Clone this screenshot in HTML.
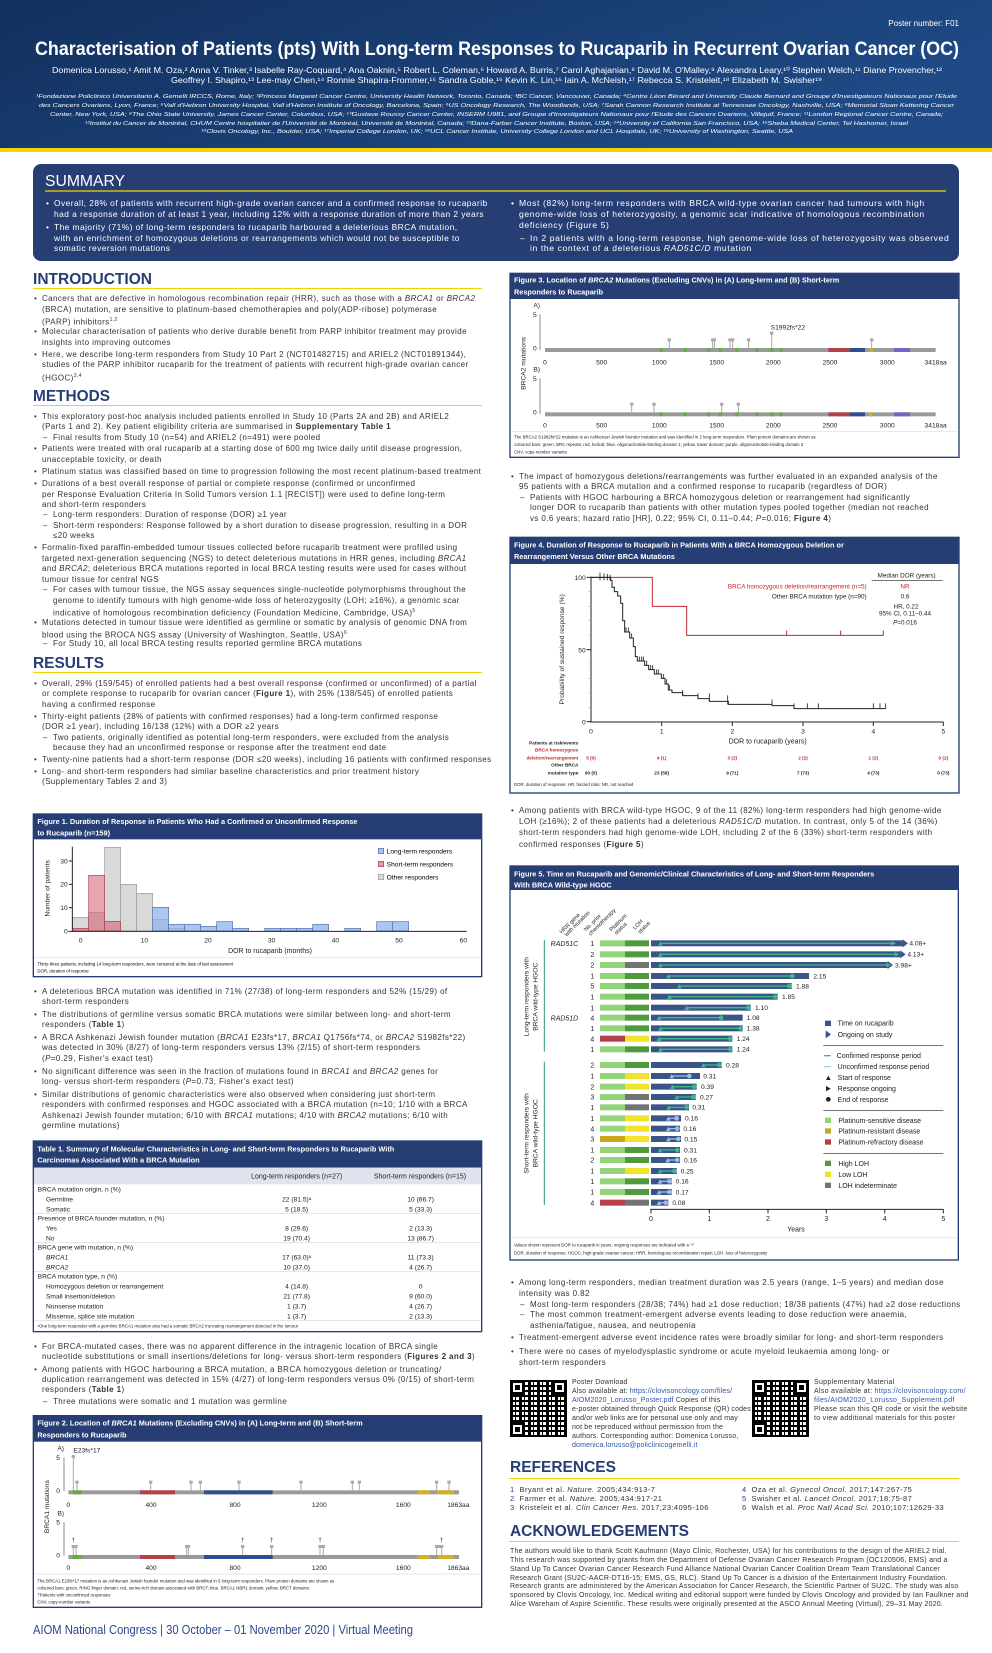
<!DOCTYPE html>
<html><head><meta charset="utf-8"><style>
*{margin:0;padding:0;box-sizing:border-box}
body{width:992px;height:1653px;position:relative;background:#fff;font-family:"Liberation Sans",sans-serif;overflow:hidden;color:#222}
svg.main{position:absolute;left:0;top:0}
.b,.s{position:absolute;white-space:nowrap;font-size:8px;letter-spacing:0.4px;line-height:10.6px;color:#333}
.b::before{content:"•";position:absolute;left:-8px;color:#263e74}
.s::before{content:"–";position:absolute;left:-10px;color:#263e74}
.w{color:#fff}.w::before{color:#fff}
.q{position:absolute;font-size:7px;letter-spacing:0.3px;line-height:9px;color:#333;white-space:nowrap}
.q a{color:#2a56a6;text-decoration:none}
.qr{position:absolute;width:57px;height:57px;background:
repeating-linear-gradient(90deg,#000 0 3px,#fff 3px 5px,#000 5px 6px,#fff 6px 9px),
repeating-linear-gradient(0deg,#000 0 2px,#fff 2px 5px);background-blend-mode:multiply}
.qr i{position:absolute;width:15px;height:15px;border:3px solid #000;background:#fff;box-shadow:inset 0 0 0 2px #fff,inset 0 0 0 6px #000}
</style></head><body>
<svg class="main" width="992" height="1653" viewBox="0 0 992 1653" font-family="Liberation Sans, sans-serif">
<defs><linearGradient id="hg" x1="0" y1="0" x2="1" y2="0.4"><stop offset="0" stop-color="#12305d"/><stop offset="1" stop-color="#1f4a86"/></linearGradient></defs>
<rect x="0" y="0" width="992" height="148" fill="url(#hg)"/>
<rect x="0" y="148" width="992" height="4" fill="#f2d400"/>
<text x="959" y="26" fill="#fff" font-size="8" text-anchor="end">Poster number: F01</text>
<text x="35" y="55" fill="#fff" font-size="19" font-weight="bold" textLength="924" lengthAdjust="spacingAndGlyphs">Characterisation of Patients (pts) With Long-term Responses to Rucaparib in Recurrent Ovarian Cancer (OC)</text>
<text x="52" y="73" fill="#fff" font-size="8.3" textLength="890" lengthAdjust="spacingAndGlyphs">Domenica Lorusso,¹ Amit M. Oza,² Anna V. Tinker,³ Isabelle Ray-Coquard,⁴ Ana Oaknin,⁵ Robert L. Coleman,⁶ Howard A. Burris,⁷ Carol Aghajanian,⁸ David M. O'Malley,⁹ Alexandra Leary,¹⁰ Stephen Welch,¹¹ Diane Provencher,¹²</text>
<text x="171" y="83" fill="#fff" font-size="8.3" textLength="651" lengthAdjust="spacingAndGlyphs">Geoffrey I. Shapiro,¹³ Lee-may Chen,¹⁴ Ronnie Shapira-Frommer,¹⁵ Sandra Goble,¹⁶ Kevin K. Lin,¹⁶ Iain A. McNeish,¹⁷ Rebecca S. Kristeleit,¹⁸ Elizabeth M. Swisher¹⁹</text>
<g fill="#fff" font-size="5.6" font-style="italic">
<text x="36" y="98" textLength="921" lengthAdjust="spacingAndGlyphs">¹Fondazione Policlinico Universitario A. Gemelli IRCCS, Rome, Italy; ²Princess Margaret Cancer Centre, University Health Network, Toronto, Canada; ³BC Cancer, Vancouver, Canada; ⁴Centre Léon Bérard and University Claude Bernard and Groupe d'Investigateurs Nationaux pour l'Etude</text>
<text x="39" y="107" textLength="915" lengthAdjust="spacingAndGlyphs">des Cancers Ovariens, Lyon, France; ⁵Vall d'Hebron University Hospital, Vall d'Hebron Institute of Oncology, Barcelona, Spain; ⁶US Oncology Research, The Woodlands, USA; ⁷Sarah Cannon Research Institute at Tennessee Oncology, Nashville, USA; ⁸Memorial Sloan Kettering Cancer</text>
<text x="50" y="116" textLength="893" lengthAdjust="spacingAndGlyphs">Center, New York, USA; ⁹The Ohio State University, James Cancer Center, Columbus, USA; ¹⁰Gustave Roussy Cancer Center, INSERM U981, and Groupe d'Investigateurs Nationaux pour l'Etude des Cancers Ovariens, Villejuif, France; ¹¹London Regional Cancer Centre, Canada;</text>
<text x="85" y="125" textLength="823" lengthAdjust="spacingAndGlyphs">¹²Institut du Cancer de Montréal, CHUM Centre hospitalier de l'Université de Montréal, Université de Montréal, Canada; ¹³Dana-Farber Cancer Institute, Boston, USA; ¹⁴University of California San Francisco, USA; ¹⁵Sheba Medical Center, Tel Hashomer, Israel</text>
<text x="201" y="133" textLength="592" lengthAdjust="spacingAndGlyphs">¹⁶Clovis Oncology, Inc., Boulder, USA; ¹⁷Imperial College London, UK; ¹⁸UCL Cancer Institute, University College London and UCL Hospitals, UK; ¹⁹University of Washington, Seattle, USA</text>
</g>
<rect x="33" y="164" width="926" height="97" rx="8" fill="#263e74"/>
<text x="45" y="186" fill="#fff" font-size="16" textLength="80" lengthAdjust="spacingAndGlyphs">SUMMARY</text>
<line x1="45" y1="191" x2="946" y2="191" stroke="#f2d400" stroke-width="1.2"/>
<g fill="#263e74" font-weight="bold" font-size="16">
<text x="33" y="284" textLength="119" lengthAdjust="spacingAndGlyphs">INTRODUCTION</text>
<text x="33" y="401" textLength="77" lengthAdjust="spacingAndGlyphs">METHODS</text>
<text x="33" y="668" textLength="71" lengthAdjust="spacingAndGlyphs">RESULTS</text>
<text x="510" y="1472" textLength="106" lengthAdjust="spacingAndGlyphs">REFERENCES</text>
<text x="510" y="1536" textLength="179" lengthAdjust="spacingAndGlyphs">ACKNOWLEDGEMENTS</text>
</g>
<g stroke="#f2d400" stroke-width="1">
<line x1="33" y1="288.5" x2="482" y2="288.5"/><line x1="33" y1="405.5" x2="482" y2="405.5"/><line x1="33" y1="672.5" x2="482" y2="672.5"/>
<line x1="509" y1="1478.5" x2="959" y2="1478.5"/><line x1="509" y1="1541.5" x2="959" y2="1541.5"/>
</g>
<text x="33" y="1634" fill="#2b4a8c" font-size="12.5" textLength="380" lengthAdjust="spacingAndGlyphs">AIOM National Congress | 30 October – 01 November 2020 | Virtual Meeting</text>

<!-- FIGURE 1 -->
<g transform="translate(0,800) scale(0.33333)" font-size="20">
<rect x="100" y="42" width="1345" height="488" fill="#fff" stroke="#263e74" stroke-width="4"/>
<rect x="100" y="42" width="1345" height="76" fill="#263e74"/>
<text x="112" y="72" fill="#fff" font-size="22" font-weight="bold">Figure 1. Duration of Response in Patients Who Had a Confirmed or Unconfirmed Response</text>
<text x="112" y="106" fill="#fff" font-size="22" font-weight="bold">to Rucaparib (n=159)</text>
<g stroke="#999" stroke-width="2" fill="#d9d9d9">
<rect x="218" y="352" width="48" height="41"/><rect x="266" y="338" width="48" height="55"/><rect x="314" y="142" width="48" height="251"/><rect x="362" y="253" width="48" height="140"/><rect x="410" y="280" width="48" height="113"/><rect x="458" y="358" width="48" height="35"/><rect x="506" y="385" width="48" height="8"/>
</g>
<g stroke="#b04050" stroke-width="2" fill="rgba(205,80,95,0.5)">
<rect x="218" y="385" width="48" height="8"/><rect x="266" y="226" width="48" height="167"/><rect x="314" y="364" width="48" height="29"/>
</g>
<g stroke="#5670b0" stroke-width="2" fill="rgba(140,180,235,0.75)">
<rect x="458" y="322" width="48" height="71"/><rect x="506" y="373" width="48" height="20"/><rect x="554" y="373" width="48" height="20"/><rect x="602" y="379" width="48" height="14"/><rect x="650" y="365" width="48" height="28"/><rect x="698" y="385" width="48" height="8"/><rect x="794" y="385" width="48" height="8"/><rect x="842" y="385" width="48" height="8"/><rect x="890" y="385" width="48" height="8"/><rect x="938" y="373" width="48" height="20"/><rect x="1034" y="385" width="48" height="8"/><rect x="1130" y="365" width="48" height="28"/><rect x="1178" y="365" width="48" height="28"/>
</g>
<g stroke="#222" stroke-width="3"><line x1="217" y1="140" x2="217" y2="395"/><line x1="205" y1="394" x2="1400" y2="394"/>
<line x1="207" y1="323" x2="217" y2="323"/><line x1="207" y1="253" x2="217" y2="253"/><line x1="207" y1="183" x2="217" y2="183"/></g>
<g text-anchor="end" fill="#222"><text x="203" y="400">0</text><text x="203" y="330">10</text><text x="203" y="260">20</text><text x="203" y="190">30</text></g>
<g text-anchor="middle" fill="#222"><text x="242" y="427">0</text><text x="433" y="427">10</text><text x="624" y="427">20</text><text x="815" y="427">30</text><text x="1006" y="427">40</text><text x="1197" y="427">50</text><text x="1390" y="427">60</text>
<text x="810" y="459" font-size="21">DOR to rucaparib (months)</text>
<text transform="translate(148,265) rotate(-90)" font-size="20">Number of patients</text></g>
<rect x="1135" y="145" width="16" height="16" fill="#a7c3ea" stroke="#5670b0" stroke-width="2"/><rect x="1135" y="184" width="16" height="16" fill="#e39aa3" stroke="#b04050" stroke-width="2"/><rect x="1135" y="223" width="16" height="16" fill="#d9d9d9" stroke="#999" stroke-width="2"/>
<text x="1160" y="161">Long-term responders</text><text x="1160" y="200">Short-term responders</text><text x="1160" y="239">Other responders</text>
<line x1="102" y1="472" x2="1443" y2="472" stroke="#ddd" stroke-width="2"/>
<text x="112" y="497" font-size="13">Thirty-three patients, including 14 long-term responders, were censored at the date of last assessment</text>
<text x="112" y="518" font-size="13">DOR, duration of response</text>
</g>

<!-- TABLE 1 + FIGURE 2 -->
<g transform="translate(0,1130) scale(0.33333)" font-size="20" fill="#222">
<rect x="100" y="33" width="1345" height="572" fill="#fff" stroke="#263e74" stroke-width="4"/>
<rect x="100" y="33" width="1345" height="80" fill="#263e74"/>
<text x="112" y="65" fill="#fff" font-size="22" font-weight="bold">Table 1. Summary of Molecular Characteristics in Long- and Short-term Responders to Rucaparib With</text>
<text x="112" y="98" fill="#fff" font-size="22" font-weight="bold">Carcinomas Associated With a BRCA Mutation</text>
<rect x="102" y="113" width="1341" height="50" fill="#dfe3ee"/>
<text x="890" y="146" text-anchor="middle" font-size="21">Long-term responders (n=27)</text><text x="1260" y="146" text-anchor="middle" font-size="21">Short-term responders (n=15)</text>
<g stroke="#dfe3ee" stroke-width="3"><line x1="102" y1="250" x2="1443" y2="250"/><line x1="102" y1="338" x2="1443" y2="338"/><line x1="102" y1="425" x2="1443" y2="425"/><line x1="102" y1="572" x2="1443" y2="572"/></g>
<text x="113" y="185">BRCA mutation origin, n (%)</text><text x="138" y="215">Germline</text><text x="138" y="245">Somatic</text>
<text x="113" y="272">Presence of BRCA founder mutation, n (%)</text><text x="138" y="302">Yes</text><text x="138" y="332">No</text>
<text x="113" y="359">BRCA gene with mutation, n (%)</text><text x="138" y="389" font-style="italic">BRCA1</text><text x="138" y="419" font-style="italic">BRCA2</text>
<text x="113" y="446">BRCA mutation type, n (%)</text><text x="138" y="476">Homozygous deletion or rearrangement</text><text x="138" y="506">Small insertion/deletion</text><text x="138" y="536">Nonsense mutation</text><text x="138" y="566">Missense, splice site mutation</text>
<g text-anchor="middle"><text x="890" y="215">22 (81.5)ᵃ</text><text x="890" y="245">5 (18.5)</text><text x="890" y="302">8 (29.6)</text><text x="890" y="332">19 (70.4)</text><text x="890" y="389">17 (63.0)ᵃ</text><text x="890" y="419">10 (37.0)</text><text x="890" y="476">4 (14.8)</text><text x="890" y="506">21 (77.8)</text><text x="890" y="536">1 (3.7)</text><text x="890" y="566">1 (3.7)</text>
<text x="1262" y="215">10 (66.7)</text><text x="1262" y="245">5 (33.3)</text><text x="1262" y="302">2 (13.3)</text><text x="1262" y="332">13 (86.7)</text><text x="1262" y="389">11 (73.3)</text><text x="1262" y="419">4 (26.7)</text><text x="1262" y="476">0</text><text x="1262" y="506">9 (60.0)</text><text x="1262" y="536">4 (26.7)</text><text x="1262" y="566">2 (13.3)</text></g>
<text x="112" y="592" font-size="13">ᵃOne long-term responder with a germline BRCA1 mutation also had a somatic BRCA2 truncating rearrangement detected in the tumour</text>

<rect x="100" y="857" width="1345" height="575" fill="#fff" stroke="#263e74" stroke-width="4"/>
<rect x="100" y="857" width="1345" height="78" fill="#263e74"/>
<text x="112" y="887" fill="#fff" font-size="22" font-weight="bold">Figure 2. Location of <tspan font-style="italic">BRCA1</tspan> Mutations (Excluding CNVs) in (A) Long-term and (B) Short-term</text>
<text x="112" y="922" fill="#fff" font-size="22" font-weight="bold">Responders to Rucaparib</text>
<text x="172" y="962">A)</text><text x="220" y="967">E23fs*17</text>
<text x="172" y="1156">B)</text>
<text transform="translate(147,1130) rotate(-90)" text-anchor="middle">BRCA1 mutations</text>
<g stroke="#555" stroke-width="2"><line x1="192" y1="983" x2="192" y2="1083"/><line x1="192" y1="1177" x2="192" y2="1277"/></g>
<text x="180" y="990" text-anchor="end">5</text><text x="180" y="1089" text-anchor="end">0</text><text x="180" y="1184" text-anchor="end">5</text><text x="180" y="1283" text-anchor="end">0</text>
<g stroke="#aaa" stroke-width="3">
<line x1="220" y1="1081" x2="220" y2="980"/><line x1="231" y1="1081" x2="231" y2="1057"/><line x1="452" y1="1081" x2="452" y2="1057"/><line x1="573" y1="1081" x2="573" y2="1057"/><line x1="601" y1="1081" x2="601" y2="1057"/><line x1="717" y1="1081" x2="717" y2="1057"/><line x1="903" y1="1081" x2="903" y2="1057"/><line x1="1057" y1="1081" x2="1057" y2="1057"/><line x1="1078" y1="1081" x2="1078" y2="1057"/><line x1="1310" y1="1081" x2="1310" y2="1057"/><line x1="1347" y1="1081" x2="1347" y2="1057"/>
<line x1="220" y1="1275" x2="220" y2="1250"/><line x1="228" y1="1275" x2="228" y2="1250"/><line x1="560" y1="1275" x2="560" y2="1250"/><line x1="565" y1="1275" x2="565" y2="1250"/><line x1="728" y1="1275" x2="728" y2="1250"/><line x1="815" y1="1275" x2="815" y2="1250"/><line x1="960" y1="1275" x2="960" y2="1250"/><line x1="970" y1="1275" x2="970" y2="1250"/><line x1="1310" y1="1275" x2="1310" y2="1250"/><line x1="1325" y1="1275" x2="1325" y2="1250"/>
</g>
<g fill="#aaa"><rect x="215" y="975" width="10" height="9"/><rect x="226" y="1052" width="10" height="9"/><rect x="447" y="1052" width="10" height="9"/><rect x="568" y="1052" width="10" height="9"/><rect x="596" y="1052" width="10" height="9"/><rect x="712" y="1052" width="10" height="9"/><rect x="898" y="1052" width="10" height="9"/><rect x="1052" y="1052" width="10" height="9"/><rect x="1073" y="1052" width="10" height="9"/><rect x="1305" y="1052" width="10" height="9"/><rect x="1342" y="1052" width="10" height="9"/>
<rect x="215" y="1245" width="18" height="9"/><rect x="555" y="1245" width="15" height="9"/><rect x="723" y="1245" width="10" height="9"/><rect x="810" y="1245" width="10" height="9"/><rect x="955" y="1245" width="20" height="9"/><rect x="1305" y="1245" width="25" height="9"/></g>
<g font-size="18" text-anchor="middle"><text x="220" y="1236">†</text><text x="728" y="1236">†</text><text x="815" y="1236">†</text><text x="960" y="1236">†</text><text x="1325" y="1236">†</text></g>
<rect x="205" y="1081" width="1172" height="12" fill="#9a9a9a"/><rect x="205" y="1275" width="1172" height="12" fill="#9a9a9a"/>
<g><rect x="218" y="1081" width="27" height="12" fill="#5cb040"/><rect x="420" y="1081" width="105" height="12" fill="#b5404a"/><rect x="612" y="1081" width="206" height="12" fill="#2e4f8f"/><rect x="1252" y="1081" width="38" height="12" fill="#d4b01c"/><rect x="1312" y="1081" width="50" height="12" fill="#d4b01c"/>
<rect x="218" y="1275" width="27" height="12" fill="#5cb040"/><rect x="420" y="1275" width="105" height="12" fill="#b5404a"/><rect x="612" y="1275" width="206" height="12" fill="#2e4f8f"/><rect x="1252" y="1275" width="38" height="12" fill="#d4b01c"/><rect x="1312" y="1275" width="50" height="12" fill="#d4b01c"/></g>
<g text-anchor="middle"><text x="205" y="1131">0</text><text x="453" y="1131">400</text><text x="705" y="1131">800</text><text x="958" y="1131">1200</text><text x="1210" y="1131">1600</text><text x="1375" y="1131">1863aa</text>
<text x="205" y="1320">0</text><text x="453" y="1320">400</text><text x="705" y="1320">800</text><text x="958" y="1320">1200</text><text x="1210" y="1320">1600</text><text x="1375" y="1320">1863aa</text></g>
<line x1="102" y1="1332" x2="1443" y2="1332" stroke="#ddd" stroke-width="2"/>
<g font-size="13"><text x="112" y="1357">The BRCA1 E23fs*17 mutation is an Ashkenazi Jewish founder mutation and was identified in 5 long-term responders. Pfam protein domains are shown as</text>
<text x="112" y="1378">coloured bars: green, RING finger domain; red, serine-rich domain associated with BRCT; blue, BRCA1 NBR1 domain; yellow, BRCT domains</text>
<text x="112" y="1399">†Patients with unconfirmed responses</text><text x="112" y="1420">CNV, copy-number variants</text></g>
</g>

<!-- FIGURE 3 + 4 -->
<g transform="translate(500,260) scale(0.33333)" font-size="20" fill="#222">
<rect x="30" y="40" width="1347" height="552" fill="#fff" stroke="#263e74" stroke-width="4"/>
<rect x="30" y="40" width="1347" height="77" fill="#263e74"/>
<text x="42" y="68" fill="#fff" font-size="22" font-weight="bold">Figure 3. Location of <tspan font-style="italic">BRCA2</tspan> Mutations (Excluding CNVs) in (A) Long-term and (B) Short-term</text>
<text x="42" y="104" fill="#fff" font-size="22" font-weight="bold">Responders to Rucaparib</text>
<text x="100" y="143">A)</text><text x="100" y="335">B)</text>
<text transform="translate(77,310) rotate(-90)" text-anchor="middle">BRCA2 mutations</text>
<g stroke="#555" stroke-width="2"><line x1="120" y1="163" x2="120" y2="270"/><line x1="120" y1="355" x2="120" y2="462"/></g>
<text x="110" y="171" text-anchor="end">5</text><text x="110" y="272" text-anchor="end">0</text><text x="110" y="363" text-anchor="end">5</text><text x="110" y="464" text-anchor="end">0</text>
<g stroke="#aaa" stroke-width="3"><line x1="508" y1="264" x2="508" y2="240"/><line x1="638" y1="264" x2="638" y2="240"/><line x1="643" y1="264" x2="643" y2="240"/><line x1="690" y1="264" x2="690" y2="240"/><line x1="698" y1="264" x2="698" y2="240"/><line x1="746" y1="264" x2="746" y2="240"/><line x1="815" y1="264" x2="815" y2="220"/><line x1="1115" y1="264" x2="1115" y2="240"/>
<line x1="395" y1="457" x2="395" y2="433"/><line x1="462" y1="457" x2="462" y2="433"/><line x1="665" y1="457" x2="665" y2="433"/><line x1="715" y1="457" x2="715" y2="433"/></g>
<g fill="#aaa"><rect x="503" y="235" width="10" height="9"/><rect x="633" y="235" width="15" height="9"/><rect x="685" y="235" width="18" height="9"/><rect x="741" y="235" width="10" height="9"/><rect x="810" y="215" width="10" height="9"/><rect x="1110" y="235" width="10" height="9"/>
<rect x="390" y="428" width="10" height="9"/><rect x="457" y="428" width="10" height="9"/><rect x="660" y="428" width="10" height="9"/><rect x="710" y="428" width="10" height="9"/></g>
<text x="812" y="208">S1992fs*22</text>
<rect x="135" y="264" width="1172" height="12" fill="#9a9a9a"/><rect x="135" y="457" width="1172" height="12" fill="#9a9a9a"/>
<g fill="#5cb040"><rect x="479" y="264" width="9" height="12"/><rect x="551" y="264" width="9" height="12"/><rect x="621" y="264" width="9" height="12"/><rect x="656" y="264" width="9" height="12"/><rect x="706" y="264" width="9" height="12"/><rect x="766" y="264" width="9" height="12"/><rect x="811" y="264" width="9" height="12"/><rect x="839" y="264" width="9" height="12"/>
<rect x="479" y="457" width="9" height="12"/><rect x="551" y="457" width="9" height="12"/><rect x="621" y="457" width="9" height="12"/><rect x="656" y="457" width="9" height="12"/><rect x="706" y="457" width="9" height="12"/><rect x="766" y="457" width="9" height="12"/><rect x="811" y="457" width="9" height="12"/><rect x="839" y="457" width="9" height="12"/></g>
<rect x="985" y="264" width="65" height="12" fill="#b5404a"/><rect x="1050" y="264" width="45" height="12" fill="#2e4f8f"/><rect x="1108" y="264" width="10" height="12" fill="#d4b01c"/><rect x="1182" y="264" width="48" height="12" fill="#7a62c4"/>
<rect x="985" y="457" width="65" height="12" fill="#b5404a"/><rect x="1050" y="457" width="45" height="12" fill="#2e4f8f"/><rect x="1108" y="457" width="10" height="12" fill="#d4b01c"/><rect x="1182" y="457" width="48" height="12" fill="#7a62c4"/>
<g text-anchor="middle"><text x="135" y="313">0</text><text x="305" y="313">500</text><text x="478" y="313">1000</text><text x="650" y="313">1500</text><text x="820" y="313">2000</text><text x="990" y="313">2500</text><text x="1162" y="313">3000</text><text x="1307" y="313">3418aa</text>
<text x="135" y="503">0</text><text x="305" y="503">500</text><text x="478" y="503">1000</text><text x="650" y="503">1500</text><text x="820" y="503">2000</text><text x="990" y="503">2500</text><text x="1162" y="503">3000</text><text x="1307" y="503">3418aa</text></g>
<line x1="32" y1="515" x2="1375" y2="515" stroke="#ddd" stroke-width="2"/>
<g font-size="13"><text x="42" y="536">The BRCA2 S1982fs*22 mutation is an Ashkenazi Jewish founder mutation and was identified in 2 long-term responders. Pfam protein domains are shown as</text>
<text x="42" y="558">coloured bars: green, BRC repeats; red, helical; blue, oligonucleotide-binding domain 1; yellow, tower domain; purple, oligonucleotide-binding domain 3</text>
<text x="42" y="580">CNV, copy-number variants</text></g>

<rect x="30" y="832" width="1347" height="767" fill="#fff" stroke="#263e74" stroke-width="4"/>
<rect x="30" y="832" width="1347" height="80" fill="#263e74"/>
<text x="42" y="862" fill="#fff" font-size="22" font-weight="bold">Figure 4. Duration of Response to Rucaparib in Patients With a BRCA Homozygous Deletion or</text>
<text x="42" y="897" fill="#fff" font-size="22" font-weight="bold">Rearrangement Versus Other BRCA Mutations</text>
<g stroke="#222" stroke-width="3" fill="none"><line x1="273" y1="950" x2="273" y2="1387"/><line x1="271" y1="1386" x2="1330" y2="1386"/>
<line x1="260" y1="952" x2="273" y2="952"/><line x1="260" y1="1169" x2="273" y2="1169"/><line x1="260" y1="1385" x2="273" y2="1385"/>
<line x1="485" y1="1386" x2="485" y2="1398"/><line x1="697" y1="1386" x2="697" y2="1398"/><line x1="909" y1="1386" x2="909" y2="1398"/><line x1="1120" y1="1386" x2="1120" y2="1398"/><line x1="1330" y1="1386" x2="1330" y2="1398"/></g>
<g stroke="#999" stroke-width="1.5"><path d="M265 995H273M265 1039H273M265 1082H273M265 1125H273M265 1212H273M265 1255H273M265 1299H273M265 1342H273"/></g>
<g text-anchor="end"><text x="257" y="960">100</text><text x="257" y="1177">50</text><text x="257" y="1393">0</text></g>
<g text-anchor="middle"><text x="273" y="1421">0</text><text x="485" y="1421">1</text><text x="697" y="1421">2</text><text x="909" y="1421">3</text><text x="1120" y="1421">4</text><text x="1330" y="1421">5</text>
<text x="803" y="1450" font-size="21">DOR to rucaparib (years)</text>
<text transform="translate(192,1168) rotate(-90)" font-size="20">Probability of sustained response (%)</text></g>
<path d="M273,952 H457 V1039 H560 V1126 H1150" stroke="#c0272d" stroke-width="3" fill="none"/>
<path d="M860,1112V1126M1022,1112V1126M1150,1112V1126" stroke="#c0272d" stroke-width="3"/>
<path d="M273,952 H332 V961 H336 V982 H343 V995 H353 V1008 H362 V1030 H368 V1082 H374 V1116 H389 V1134 H400 V1160 H406 V1190 H412 V1203 H434 V1216 H446 V1229 H463 V1242 H484 V1255 H495 V1272 H505 V1290 H516 V1298 H548 V1307 H594 V1316 H628 V1324 H685 V1333 H816 V1337 H882 V1346 H1157" stroke="#222" stroke-width="3" fill="none"/>
<path d="M300,938V961M312,940V961M322,942V961M330,944V961M378,1102V1116M385,1102V1116M395,1120V1134M418,1190V1203M425,1190V1203M430,1190V1203M440,1202V1216M452,1215V1229M458,1215V1229M470,1228V1242M475,1228V1242M490,1242V1255M500,1258V1272M508,1275V1290M548,1290V1307M594,1300V1316M628,1300V1324M683,1306V1333M816,1318V1337M882,1330V1346M922,1330V1346M955,1330V1346M1120,1330V1346M1140,1330V1346M1157,1330V1346" stroke="#222" stroke-width="2.5"/>
<text x="1220" y="953" text-anchor="middle" font-size="19">Median DOR (years)</text><line x1="1115" y1="962" x2="1328" y2="962" stroke="#222" stroke-width="2"/>
<text x="1100" y="986" text-anchor="end" fill="#c0272d" font-size="19">BRCA homozygous deletion/rearrangement (n=5)</text><text x="1215" y="986" text-anchor="middle" fill="#c0272d" font-size="19">NR</text>
<text x="1100" y="1016" text-anchor="end" font-size="19">Other BRCA mutation type (n=90)</text><text x="1215" y="1016" text-anchor="middle" font-size="19">0.6</text>
<g text-anchor="middle" font-size="19"><text x="1218" y="1046">HR, 0.22</text><text x="1215" y="1067">95% CI, 0.11–0.44</text><text x="1215" y="1094"><tspan font-style="italic">P</tspan>=0.016</text></g>
<g text-anchor="end" font-size="14" font-weight="bold"><text x="235" y="1453">Patients at risk/events</text><text x="235" y="1475" fill="#c0272d">BRCA homozygous</text><text x="235" y="1498" fill="#c0272d">deletion/rearrangement</text><text x="235" y="1520">Other BRCA</text><text x="235" y="1543">mutation type</text></g>
<g text-anchor="middle" font-size="14" font-weight="bold"><g fill="#c0272d"><text x="273" y="1498">5 (0)</text><text x="485" y="1498">4 (1)</text><text x="697" y="1498">3 (2)</text><text x="909" y="1498">2 (2)</text><text x="1120" y="1498">1 (2)</text><text x="1330" y="1498">0 (2)</text></g>
<text x="273" y="1543">90 (0)</text><text x="485" y="1543">23 (58)</text><text x="697" y="1543">9 (71)</text><text x="909" y="1543">7 (73)</text><text x="1120" y="1543">4 (73)</text><text x="1330" y="1543">0 (73)</text></g>
<text x="42" y="1578" font-size="13">DOR, duration of response; HR, hazard ratio; NR, not reached</text>
</g>

<!-- FIGURE 5 -->
<g transform="translate(500,850) scale(0.33333)" font-size="21" fill="#222">
<rect x="30" y="48" width="1345" height="1182" fill="#fff" stroke="#263e74" stroke-width="4"/>
<rect x="30" y="48" width="1345" height="72" fill="#263e74"/>
<text x="42" y="80" fill="#fff" font-size="22" font-weight="bold">Figure 5. Time on Rucaparib and Genomic/Clinical Characteristics of Long- and Short-term Responders</text>
<text x="42" y="112" fill="#fff" font-size="22" font-weight="bold">With BRCA Wild-type HGOC</text>
<g font-size="17"><text transform="translate(185,252) rotate(-45)">HRR gene</text><text transform="translate(200,260) rotate(-45)">with mutation</text>
<text transform="translate(258,245) rotate(-45)">No. prior</text><text transform="translate(272,258) rotate(-45)">chemotherapy</text>
<text transform="translate(335,245) rotate(-45)">Platinum</text><text transform="translate(350,255) rotate(-45)">status</text>
<text transform="translate(405,240) rotate(-45)">LOH</text><text transform="translate(420,252) rotate(-45)">status</text></g>
<g stroke="#2e9a6a" stroke-width="3"><line x1="133" y1="270" x2="133" y2="605"/><line x1="133" y1="635" x2="133" y2="1065"/></g>
<g text-anchor="middle" font-size="20"><text transform="translate(85,440) rotate(-90)">Long-term responders with</text><text transform="translate(112,440) rotate(-90)">BRCA wild-type HGOC</text>
<text transform="translate(85,850) rotate(-90)">Short-term responders with</text><text transform="translate(112,850) rotate(-90)">BRCA wild-type HGOC</text></g>
<g font-style="italic"><text x="152" y="288">RAD51C</text><text x="152" y="511">RAD51D</text></g>
<g text-anchor="middle"><text x="277" y="288">1</text><text x="277" y="321">2</text><text x="277" y="353">2</text><text x="277" y="386">1</text><text x="277" y="416">5</text><text x="277" y="448">1</text><text x="277" y="481">1</text><text x="277" y="511">4</text><text x="277" y="543">1</text><text x="277" y="574">4</text><text x="277" y="606">1</text>
<text x="277" y="653">2</text><text x="277" y="686">1</text><text x="277" y="718">2</text><text x="277" y="749">3</text><text x="277" y="780">1</text><text x="277" y="813">1</text><text x="277" y="844">4</text><text x="277" y="875">3</text><text x="277" y="908">1</text><text x="277" y="938">2</text><text x="277" y="971">1</text><text x="277" y="1002">1</text><text x="277" y="1034">1</text><text x="277" y="1066">4</text></g>
<g fill="#93d37a"><rect x="300" y="271" width="75" height="18"/><rect x="300" y="304" width="75" height="18"/><rect x="300" y="336" width="75" height="18"/><rect x="300" y="369" width="75" height="18"/><rect x="300" y="399" width="75" height="18"/><rect x="300" y="431" width="75" height="18"/><rect x="300" y="464" width="75" height="18"/><rect x="300" y="494" width="75" height="18"/><rect x="300" y="526" width="75" height="18"/><rect x="300" y="589" width="75" height="18"/>
<rect x="300" y="636" width="75" height="18"/><rect x="300" y="669" width="75" height="18"/><rect x="300" y="701" width="75" height="18"/><rect x="300" y="732" width="75" height="18"/><rect x="300" y="763" width="75" height="18"/><rect x="300" y="796" width="75" height="18"/><rect x="300" y="827" width="75" height="18"/><rect x="300" y="891" width="75" height="18"/><rect x="300" y="921" width="75" height="18"/><rect x="300" y="954" width="75" height="18"/><rect x="300" y="985" width="75" height="18"/><rect x="300" y="1017" width="75" height="18"/></g>
<rect x="300" y="557" width="75" height="18" fill="#b5404a"/><rect x="300" y="1049" width="75" height="18" fill="#b5404a"/><rect x="300" y="858" width="75" height="18" fill="#c9a91c"/>
<g fill="#4f9a3c"><rect x="375" y="271" width="72" height="18"/><rect x="375" y="304" width="72" height="18"/><rect x="375" y="369" width="72" height="18"/><rect x="375" y="399" width="72" height="18"/><rect x="375" y="431" width="72" height="18"/><rect x="375" y="464" width="72" height="18"/><rect x="375" y="494" width="72" height="18"/><rect x="375" y="526" width="72" height="18"/><rect x="375" y="589" width="72" height="18"/><rect x="375" y="636" width="72" height="18"/><rect x="375" y="891" width="72" height="18"/><rect x="375" y="921" width="72" height="18"/><rect x="375" y="985" width="72" height="18"/><rect x="375" y="1017" width="72" height="18"/></g>
<g fill="#f2e22a"><rect x="375" y="557" width="72" height="18"/><rect x="375" y="669" width="72" height="18"/><rect x="375" y="701" width="72" height="18"/><rect x="375" y="796" width="72" height="18"/><rect x="375" y="827" width="72" height="18"/><rect x="375" y="858" width="72" height="18"/><rect x="375" y="954" width="72" height="18"/></g>
<g fill="#737373"><rect x="375" y="336" width="72" height="18"/><rect x="375" y="732" width="72" height="18"/><rect x="375" y="763" width="72" height="18"/><rect x="375" y="1049" width="72" height="18"/></g>
<g fill="#3b5488"><rect x="453" y="271" width="755" height="18"/><rect x="453" y="304" width="748" height="18"/><rect x="453" y="336" width="710" height="18"/><rect x="453" y="369" width="474" height="18"/><rect x="453" y="399" width="422" height="18"/><rect x="453" y="431" width="380" height="18"/><rect x="453" y="464" width="299" height="18"/><rect x="453" y="494" width="275" height="18"/><rect x="453" y="526" width="275" height="18"/><rect x="453" y="557" width="244" height="18"/><rect x="453" y="589" width="244" height="18"/>
<rect x="453" y="636" width="212" height="18"/><rect x="453" y="669" width="147" height="18"/><rect x="453" y="701" width="137" height="18"/><rect x="453" y="732" width="134" height="18"/><rect x="453" y="763" width="114" height="18"/><rect x="453" y="796" width="90" height="18"/><rect x="453" y="827" width="87" height="18"/><rect x="453" y="858" width="90" height="18"/><rect x="453" y="891" width="87" height="18"/><rect x="453" y="921" width="87" height="18"/><rect x="453" y="954" width="77" height="18"/><rect x="453" y="985" width="62" height="18"/><rect x="453" y="1017" width="62" height="18"/><rect x="453" y="1049" width="52" height="18"/>
<polygon points="1208,268 1224,280 1208,292"/><polygon points="1201,301 1217,313 1201,325"/><polygon points="1163,333 1179,345 1163,357"/></g>
<g stroke="#3cb98a" stroke-width="4"><line x1="481" y1="280" x2="1180" y2="280"/><line x1="481" y1="313" x2="1190" y2="313"/><line x1="481" y1="345" x2="1165" y2="345"/><line x1="505" y1="378" x2="877" y2="378"/><line x1="538" y1="408" x2="868" y2="408"/><line x1="508" y1="440" x2="826" y2="440"/><line x1="560" y1="473" x2="745" y2="473"/><line x1="477" y1="503" x2="663" y2="503"/><line x1="481" y1="535" x2="722" y2="535"/><line x1="477" y1="566" x2="690" y2="566"/><line x1="481" y1="598" x2="691" y2="598"/>
<line x1="610" y1="645" x2="658" y2="645"/><line x1="517" y1="710" x2="583" y2="710"/><line x1="530" y1="741" x2="580" y2="741"/><line x1="506" y1="772" x2="560" y2="772"/><line x1="480" y1="900" x2="532" y2="900"/><line x1="480" y1="963" x2="523" y2="963"/></g>
<g stroke="#9cbbe8" stroke-width="4"><line x1="515" y1="678" x2="568" y2="678"/><line x1="505" y1="805" x2="530" y2="805"/><line x1="505" y1="836" x2="532" y2="836"/><line x1="505" y1="867" x2="535" y2="867"/><line x1="503" y1="930" x2="532" y2="930"/><line x1="480" y1="994" x2="508" y2="994"/><line x1="477" y1="1026" x2="508" y2="1026"/><line x1="477" y1="1058" x2="498" y2="1058"/></g>
<g fill="#3cb98a"><polygon points="1174,273 1188,280 1174,287"/><polygon points="1184,306 1198,313 1184,320"/><polygon points="1159,338 1173,345 1159,352"/>
<circle cx="877" cy="378" r="7"/><circle cx="868" cy="408" r="7"/><circle cx="826" cy="440" r="7"/><circle cx="745" cy="473" r="7"/><circle cx="663" cy="503" r="7"/><circle cx="722" cy="535" r="7"/><circle cx="690" cy="566" r="7"/><circle cx="691" cy="598" r="7"/><circle cx="658" cy="645" r="7"/><circle cx="583" cy="710" r="7"/><circle cx="580" cy="741" r="7"/><circle cx="560" cy="772" r="7"/><circle cx="532" cy="900" r="7"/><circle cx="523" cy="963" r="7"/>
<polygon points="474,287 488,287 481,274"/><polygon points="474,320 488,320 481,307"/><polygon points="474,352 488,352 481,339"/><polygon points="498,385 512,385 505,372"/><polygon points="531,415 545,415 538,402"/><polygon points="501,447 515,447 508,434"/><polygon points="553,480 567,480 560,467"/><polygon points="470,510 484,510 477,497"/><polygon points="474,542 488,542 481,529"/><polygon points="470,573 484,573 477,560"/><polygon points="474,605 488,605 481,592"/><polygon points="603,652 617,652 610,639"/><polygon points="510,717 524,717 517,704"/><polygon points="523,748 537,748 530,735"/><polygon points="499,779 513,779 506,766"/><polygon points="473,907 487,907 480,894"/><polygon points="473,970 487,970 480,957"/></g>
<g fill="#9cbbe8"><circle cx="568" cy="678" r="7"/><circle cx="530" cy="805" r="7"/><circle cx="532" cy="836" r="7"/><circle cx="535" cy="867" r="7"/><circle cx="532" cy="930" r="7"/><circle cx="508" cy="994" r="7"/><circle cx="508" cy="1026" r="7"/><circle cx="498" cy="1058" r="7"/>
<polygon points="508,685 522,685 515,672"/><polygon points="498,812 512,812 505,799"/><polygon points="498,843 512,843 505,830"/><polygon points="498,874 512,874 505,861"/><polygon points="496,937 510,937 503,924"/><polygon points="473,1001 487,1001 480,988"/><polygon points="470,1033 484,1033 477,1020"/><polygon points="470,1065 484,1065 477,1052"/></g>
<g font-size="20"><text x="1228" y="287">4.08+</text><text x="1222" y="320">4.13+</text><text x="1185" y="352">3.98+</text><text x="940" y="385">2.15</text><text x="888" y="415">1.88</text><text x="846" y="447">1.85</text><text x="765" y="480">1.10</text><text x="740" y="510">1.08</text><text x="740" y="542">1.38</text><text x="710" y="573">1.24</text><text x="710" y="605">1.24</text>
<text x="678" y="652">0.28</text><text x="610" y="685">0.31</text><text x="603" y="717">0.39</text><text x="600" y="748">0.27</text><text x="577" y="779">0.31</text><text x="555" y="812">0.16</text><text x="550" y="843">0.16</text><text x="553" y="874">0.15</text><text x="552" y="907">0.31</text><text x="552" y="937">0.16</text><text x="542" y="970">0.25</text><text x="527" y="1001">0.16</text><text x="527" y="1033">0.17</text><text x="517" y="1065">0.08</text></g>
<g stroke="#222" stroke-width="3"><line x1="451" y1="1078" x2="1330" y2="1078"/><path d="M453 1078V1090M628 1078V1090M804 1078V1090M979 1078V1090M1154 1078V1090M1330 1078V1090"/></g>
<g text-anchor="middle"><text x="453" y="1113">0</text><text x="628" y="1113">1</text><text x="804" y="1113">2</text><text x="979" y="1113">3</text><text x="1154" y="1113">4</text><text x="1330" y="1113">5</text><text x="888" y="1144">Years</text></g>
<rect x="975" y="512" width="18" height="16" fill="#3b5488"/><polygon points="977,541 993,553 977,565" fill="#3b5488"/>
<g stroke="#222" stroke-width="2"><line x1="970" y1="587" x2="1330" y2="587"/><line x1="970" y1="781" x2="1330" y2="781"/><line x1="970" y1="910" x2="1330" y2="910"/></g>
<line x1="972" y1="617" x2="992" y2="617" stroke="#3cb98a" stroke-width="4"/><line x1="972" y1="650" x2="992" y2="650" stroke="#9cbbe8" stroke-width="3"/>
<polygon points="978,690 992,690 985,677"/><polygon points="978,708 992,716 978,724"/><circle cx="985" cy="748" r="7"/>
<rect x="975" y="803" width="18" height="16" fill="#93d37a"/><rect x="975" y="835" width="18" height="16" fill="#c9a91c"/><rect x="975" y="868" width="18" height="16" fill="#b5404a"/>
<rect x="975" y="932" width="18" height="16" fill="#4f9a3c"/><rect x="975" y="965" width="18" height="16" fill="#f2e22a"/><rect x="975" y="998" width="18" height="16" fill="#737373"/>
<g><text x="1013" y="527">Time on rucaparib</text><text x="1013" y="561">Ongoing on study</text><text x="1010" y="624">Confirmed response period</text><text x="1013" y="657">Unconfirmed response period</text><text x="1013" y="690">Start of response</text><text x="1013" y="723">Response ongoing</text><text x="1013" y="756">End of response</text>
<text x="1015" y="819">Platinum-sensitive disease</text><text x="1015" y="851">Platinum-resistant disease</text><text x="1015" y="884">Platinum-refractory disease</text><text x="1015" y="948">High LOH</text><text x="1015" y="981">Low LOH</text><text x="1015" y="1014">LOH indeterminate</text></g>
<line x1="32" y1="1163" x2="1373" y2="1163" stroke="#ddd" stroke-width="2"/>
<g font-size="13"><text x="42" y="1190">Values shown represent DOR to rucaparib in years; ongoing responses are indicated with a '+'</text>
<text x="42" y="1214">DOR, duration of response; HGOC, high-grade ovarian cancer; HRR, homologous recombination repair; LOH, loss of heterozygosity</text></g>
</g>
</svg>

<!-- SUMMARY TEXT -->
<div class="b w" style="left:54px;top:198px;font-size:8.4px;letter-spacing:0.45px;line-height:11px">Overall, 28% of patients with recurrent high-grade ovarian cancer and a confirmed response to rucaparib<br>had a response duration of at least 1 year, including 12% with a response duration of more than 2 years</div>
<div class="b w" style="left:54px;top:222px;font-size:8.4px;letter-spacing:0.45px;line-height:10.7px">The majority (71%) of long-term responders to rucaparib harboured a deleterious BRCA mutation,<br>with an enrichment of homozygous deletions or rearrangements which would not be susceptible to<br>somatic reversion mutations</div>
<div class="b w" style="left:519px;top:198px;font-size:8.6px;letter-spacing:0.6px;line-height:11px">Most (82%) long-term responders with BRCA wild-type ovarian cancer had tumours with high<br>genome-wide loss of heterozygosity, a genomic scar indicative of homologous recombination<br>deficiency (Figure 5)</div>
<div class="s w" style="left:530px;top:233px;font-size:8.6px;letter-spacing:0.6px;line-height:10.3px">In 2 patients with a long-term response, high genome-wide loss of heterozygosity was observed<br>in the context of a deleterious <i>RAD51C/D</i> mutation</div>

<!-- LEFT COLUMN -->
<div class="b" style="left:42px;top:294px">Cancers that are defective in homologous recombination repair (HRR), such as those with a <i>BRCA1</i> or <i>BRCA2</i><br>(BRCA) mutation, are sensitive to platinum-based chemotherapies and poly(ADP-ribose) polymerase<br>(PARP) inhibitors<sup style="font-size:5px">1,2</sup></div>
<div class="b" style="left:42px;top:327px">Molecular characterisation of patients who derive durable benefit from PARP inhibitor treatment may provide<br>insights into improving outcomes</div>
<div class="b" style="left:42px;top:349.5px">Here, we describe long-term responders from Study 10 Part 2 (NCT01482715) and ARIEL2 (NCT01891344),<br>studies of the PARP inhibitor rucaparib for the treatment of patients with recurrent high-grade ovarian cancer<br>(HGOC)<sup style="font-size:5px">3,4</sup></div>

<div class="b" style="left:42px;top:411.5px">This exploratory post-hoc analysis included patients enrolled in Study 10 (Parts 2A and 2B) and ARIEL2<br>(Parts 1 and 2). Key patient eligibility criteria are summarised in <b>Supplementary Table 1</b></div>
<div class="s" style="left:53px;top:433px">Final results from Study 10 (n=54) and ARIEL2 (n=491) were pooled</div>
<div class="b" style="left:42px;top:444px">Patients were treated with oral rucaparib at a starting dose of 600 mg twice daily until disease progression,<br>unacceptable toxicity, or death</div>
<div class="b" style="left:42px;top:467px">Platinum status was classified based on time to progression following the most recent platinum-based treatment</div>
<div class="b" style="left:42px;top:479px">Durations of a best overall response of partial or complete response (confirmed or unconfirmed<br>per Response Evaluation Criteria In Solid Tumors version 1.1 [RECIST]) were used to define long-term<br>and short-term responders</div>
<div class="s" style="left:53px;top:510px">Long-term responders: Duration of response (DOR) ≥1 year</div>
<div class="s" style="left:53px;top:520.5px;line-height:10px">Short-term responders: Response followed by a short duration to disease progression, resulting in a DOR<br>≤20 weeks</div>
<div class="b" style="left:42px;top:543px">Formalin-fixed paraffin-embedded tumour tissues collected before rucaparib treatment were profiled using<br>targeted next-generation sequencing (NGS) to detect deleterious mutations in HRR genes, including <i>BRCA1</i><br>and <i>BRCA2</i>; deleterious BRCA mutations reported in local BRCA testing results were used for cases without<br>tumour tissue for central NGS</div>
<div class="s" style="left:53px;top:585px">For cases with tumour tissue, the NGS assay sequences single-nucleotide polymorphisms throughout the<br>genome to identify tumours with high genome-wide loss of heterozygosity (LOH; ≥16%), a genomic scar<br>indicative of homologous recombination deficiency (Foundation Medicine, Cambridge, USA)<sup style="font-size:5px">5</sup></div>
<div class="b" style="left:42px;top:617.5px;line-height:10px">Mutations detected in tumour tissue were identified as germline or somatic by analysis of genomic DNA from<br>blood using the BROCA NGS assay (University of Washington, Seattle, USA)<sup style="font-size:5px">6</sup></div>
<div class="s" style="left:53px;top:638.5px">For Study 10, all local BRCA testing results reported germline BRCA mutations</div>

<div class="b" style="left:42px;top:679px;line-height:10.3px">Overall, 29% (159/545) of enrolled patients had a best overall response (confirmed or unconfirmed) of a partial<br>or complete response to rucaparib for ovarian cancer (<b>Figure 1</b>), with 25% (138/545) of enrolled patients<br>having a confirmed response</div>
<div class="b" style="left:42px;top:711.5px">Thirty-eight patients (28% of patients with confirmed responses) had a long-term confirmed response<br>(DOR ≥1 year), including 16/138 (12%) with a DOR ≥2 years</div>
<div class="s" style="left:53px;top:733px;line-height:10.3px">Two patients, originally identified as potential long-term responders, were excluded from the analysis<br>because they had an unconfirmed response or response after the treatment end date</div>
<div class="b" style="left:42px;top:755px">Twenty-nine patients had a short-term response (DOR ≤20 weeks), including 16 patients with confirmed responses</div>
<div class="b" style="left:42px;top:766.5px">Long- and short-term responders had similar baseline characteristics and prior treatment history<br>(Supplementary Tables 2 and 3)</div>

<div class="b" style="left:42px;top:986.5px;line-height:10px">A deleterious BRCA mutation was identified in 71% (27/38) of long-term responders and 52% (15/29) of<br>short-term responders</div>
<div class="b" style="left:42px;top:1010px;line-height:10px">The distributions of germline versus somatic BRCA mutations were similar between long- and short-term<br>responders (<b>Table 1</b>)</div>
<div class="b" style="left:42px;top:1032.5px;line-height:10.7px">A BRCA Ashkenazi Jewish founder mutation (<i>BRCA1</i> E23fs*17, <i>BRCA1</i> Q1756fs*74, or <i>BRCA2</i> S1982fs*22)<br>was detected in 30% (8/27) of long-term responders versus 13% (2/15) of short-term responders<br>(<i>P</i>=0.29, Fisher's exact test)</div>
<div class="b" style="left:42px;top:1066.5px;line-height:10px">No significant difference was seen in the fraction of mutations found in <i>BRCA1</i> and <i>BRCA2</i> genes for<br>long- versus short-term responders (<i>P</i>=0.73, Fisher's exact test)</div>
<div class="b" style="left:42px;top:1089.5px;line-height:10.6px">Similar distributions of genomic characteristics were also observed when considering just short-term<br>responders with confirmed responses and HGOC associated with a BRCA mutation (n=10; 1/10 with a BRCA<br>Ashkenazi Jewish founder mutation; 6/10 with <i>BRCA1</i> mutations; 4/10 with <i>BRCA2</i> mutations; 6/10 with<br>germline mutations)</div>

<div class="b" style="left:42px;top:1341.5px;line-height:10px">For BRCA-mutated cases, there was no apparent difference in the intragenic location of BRCA single<br>nucleotide substitutions or small insertions/deletions for long- versus short-term responders (<b>Figures 2 and 3</b>)</div>
<div class="b" style="left:42px;top:1364.5px;line-height:10.4px">Among patients with HGOC harbouring a BRCA mutation, a BRCA homozygous deletion or truncating/<br>duplication rearrangement was detected in 15% (4/27) of long-term responders versus 0% (0/15) of short-term<br>responders (<b>Table 1</b>)</div>
<div class="s" style="left:53px;top:1396.5px">Three mutations were somatic and 1 mutation was germline</div>

<!-- RIGHT COLUMN -->
<div class="b" style="left:519px;top:471.5px;line-height:10px">The impact of homozygous deletions/rearrangements was further evaluated in an expanded analysis of the<br>95 patients with a BRCA mutation and a confirmed response to rucaparib (regardless of DOR)</div>
<div class="s" style="left:530px;top:492.5px;line-height:10.8px">Patients with HGOC harbouring a BRCA homozygous deletion or rearrangement had significantly<br>longer DOR to rucaparib than patients with other mutation types pooled together (median not reached<br>vs 0.6 years; hazard ratio [HR], 0.22; 95% CI, 0.11–0.44; <i>P</i>=0.016; <b>Figure 4</b>)</div>
<div class="b" style="left:519px;top:805px;line-height:11.2px">Among patients with BRCA wild-type HGOC, 9 of the 11 (82%) long-term responders had high genome-wide<br>LOH (≥16%); 2 of these patients had a deleterious <i>RAD51C/D</i> mutation. In contrast, only 5 of the 14 (36%)<br>short-term responders had high genome-wide LOH, including 2 of the 6 (33%) short-term responders with<br>confirmed responses (<b>Figure 5</b>)</div>

<div class="b" style="left:519px;top:1278px;line-height:10.7px">Among long-term responders, median treatment duration was 2.5 years (range, 1–5 years) and median dose<br>intensity was 0.82</div>
<div class="s" style="left:530px;top:1299.5px">Most long-term responders (28/38; 74%) had ≥1 dose reduction; 18/38 patients (47%) had ≥2 dose reductions</div>
<div class="s" style="left:530px;top:1310px;line-height:10.7px">The most common treatment-emergent adverse events leading to dose reduction were anaemia,<br>asthenia/fatigue, nausea, and neutropenia</div>
<div class="b" style="left:519px;top:1333px">Treatment-emergent adverse event incidence rates were broadly similar for long- and short-term responders</div>
<div class="b" style="left:519px;top:1345.5px;line-height:11px">There were no cases of myelodysplastic syndrome or acute myeloid leukaemia among long- or<br>short-term responders</div>

<div class="qr" style="left:510px;top:1380px"><i style="left:0;top:0"></i><i style="right:0;top:0"></i><i style="left:0;bottom:0"></i></div>
<div class="qr" style="left:752px;top:1380px"><i style="left:0;top:0"></i><i style="right:0;top:0"></i><i style="left:0;bottom:0"></i></div>
<div class="q" style="left:572px;top:1378px;letter-spacing:0.15px">Poster Download<br>Also available at: <a>https://clovisoncology.com/files/</a><br><a>AIOM2020_Lorusso_Poster.pdf</a> Copies of this<br>e-poster obtained through Quick Response (QR) codes<br>and/or web links are for personal use only and may<br>not be reproduced without permission from the<br>authors. Corresponding author: Domenica Lorusso,<br><a>domenica.lorusso@policlinicogemelli.it</a></div>
<div class="q" style="left:814px;top:1378px">Supplementary Material<br>Also available at: <a>https://clovisoncology.com/</a><br><a>files/AIOM2020_Lorusso_Supplement.pdf</a><br>Please scan this QR code or visit the website<br>to view additional materials for this poster</div>

<div class="q" style="left:510px;top:1485px;font-size:7.5px;letter-spacing:0.4px"><span style="color:#263e74">1</span>&nbsp; Bryant et al. <i>Nature.</i> 2005;434:913-7<br><span style="color:#263e74">2</span>&nbsp; Farmer et al. <i>Nature.</i> 2005;434:917-21<br><span style="color:#263e74">3</span>&nbsp; Kristeleit et al. <i>Clin Cancer Res.</i> 2017;23:4095-106</div>
<div class="q" style="left:742px;top:1485px;font-size:7.5px;letter-spacing:0.4px"><span style="color:#263e74">4</span>&nbsp; Oza et al. <i>Gynecol Oncol.</i> 2017;147:267-75<br><span style="color:#263e74">5</span>&nbsp; Swisher et al. <i>Lancet Oncol.</i> 2017;18:75-87<br><span style="color:#263e74">6</span>&nbsp; Walsh et al. <i>Proc Natl Acad Sci.</i> 2010;107:12629-33</div>
<div class="q" style="left:510px;top:1548px;font-size:7px;letter-spacing:0.2px;line-height:8.85px">The authors would like to thank Scott Kaufmann (Mayo Clinic, Rochester, USA) for his contributions to the design of the ARIEL2 trial.<br>This research was supported by grants from the Department of Defense Ovarian Cancer Research Program (OC120506, EMS) and a<br>Stand Up To Cancer Ovarian Cancer Research Fund Alliance National Ovarian Cancer Coalition Dream Team Translational Cancer<br>Research Grant (SU2C-AACR-DT16-15; EMS, GS, RLC). Stand Up To Cancer is a division of the Entertainment Industry Foundation.<br>Research grants are administered by the American Association for Cancer Research, the Scientific Partner of SU2C. The study was also<br>sponsored by Clovis Oncology, Inc. Medical writing and editorial support were funded by Clovis Oncology and provided by Ian Faulkner and<br>Alice Wareham of Aspire Scientific. These results were originally presented at the ASCO Annual Meeting (Virtual), 29–31 May 2020.</div>
</body></html>
